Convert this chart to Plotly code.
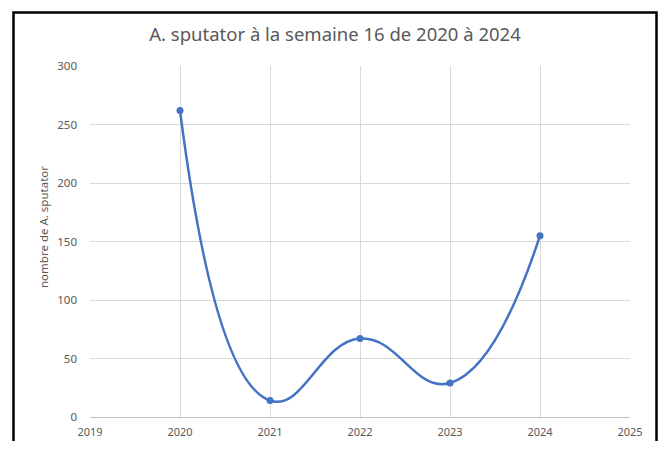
import plotly.graph_objects as go

years = [2020, 2021, 2022, 2023, 2024]
counts = [262, 14, 67, 29, 155]
x_ticks = [2019, 2020, 2021, 2022, 2023, 2024, 2025]
y_ticks = [0, 50, 100, 150, 200, 250, 300]

OFF = 8  # page body margin on each side
W, H = 666 - 2 * OFF, 449 - 2 * OFF
# plot area in page pixels: x 90..630, y 66..417
ML, MT = 90 - OFF, 66 - OFF
MR, MB = (666 - OFF) - 630, (449 - OFF) - 417
PW, PH = W - ML - MR, H - MT - MB

def px(x):
    return (x - OFF - ML) / PW

def py(y):
    return (H - MB - (y - OFF)) / PH

fig = go.Figure()
fig.add_trace(go.Scatter(
    x=years, y=counts, mode="lines+markers",
    line=dict(color="#4472C4", width=2.5, shape="spline", smoothing=1.3),
    marker=dict(color="#4472C4", size=7),
    hoverinfo="skip", showlegend=False, cliponaxis=False,
))

font = "Noto Sans, Calibri, sans-serif"
fig.update_layout(
    width=W, height=H,
    margin=dict(l=ML, r=MR, t=MT, b=MB, autoexpand=False),
    paper_bgcolor="white", plot_bgcolor="white",
    title=dict(text="A. sputator à la semaine 16 de 2020 à 2024",
               x=(335 - OFF) / W, xanchor="center", y=1 - (35 - OFF) / H, yanchor="middle",
               font=dict(family=font, size=18.5, color="#595959")),
    xaxis=dict(range=[2019, 2025], tickvals=x_ticks, ticktext=[str(v) for v in x_ticks],
               showgrid=True, gridcolor="#d9d9d9", gridwidth=1, zeroline=False,
               showline=True, linecolor="#bfbfbf", linewidth=1, automargin=False,
               tickfont=dict(family=font, size=11, color="#595959"),
               ticklabelstandoff=5),
    yaxis=dict(range=[0, 300], tickvals=y_ticks, automargin=False,
               showgrid=True, gridcolor="#d9d9d9", gridwidth=1, zeroline=False,
               showline=False,
               tickfont=dict(family=font, size=11.5, color="#595959"),
               ticklabelstandoff=12),
    shapes=[dict(type="rect", xref="paper", yref="paper",
                 x0=px(13.5), x1=px(656.5), y0=py(449 + 10), y1=py(12.5),
                 line=dict(color="black", width=2.5), fillcolor="rgba(0,0,0,0)",
                 layer="above")],
    annotations=[dict(text="nombre de A. sputator", textangle=-90,
                      xref="paper", yref="paper", x=px(43), y=py(227),
                      xanchor="center", yanchor="middle", showarrow=False,
                      font=dict(family=font, size=11.5, color="#595959"))],
)

fig.write_html("out.html")
